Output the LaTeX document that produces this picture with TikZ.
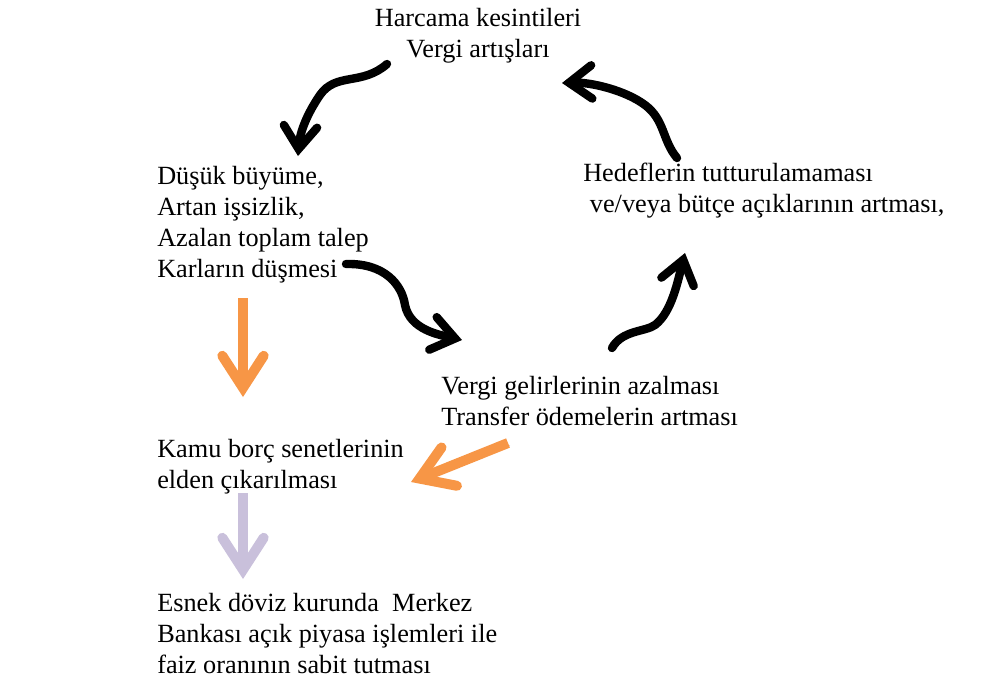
\documentclass[tikz,border=0pt]{standalone}
\usepackage{fontspec}
\setmainfont{Liberation Serif}
\usetikzlibrary{arrows.meta}
\definecolor{arrorange}{HTML}{F79646}
\definecolor{arrlilac}{HTML}{C9C0DB}

\begin{document}
\begin{tikzpicture}[x=0.75pt,y=-0.75pt,
  every node/.style={inner sep=0pt, anchor=base west, align=left, font=\fontsize{19.7}{23.25}\selectfont},
  shade/.style={preaction={draw=black!18, transform canvas={shift={(1.5pt,-1.8pt)}}}},
  curvy/.style={shade, line width=6.3pt, line cap=round, -{Straight Barb[length=17pt,width=25pt,line cap=round]}},
  fat/.style={shade, line width=7.5pt, -{Straight Barb[length=24pt,width=31pt,line cap=round]}}]

\useasboundingbox (0,0) rectangle (982,679);

% texts (placed at the baseline of their last line)
\node (cuts) [anchor=base, align=center] at (478,57) {Harcama kesintileri\\Vergi artışları};
\node (growth) at (157,277) {Düşük büyüme,\\Artan işsizlik,\\Azalan toplam talep\\Karların düşmesi};
\node (targets) at (583,212) {Hedeflerin tutturulamaması\\\hspace*{5pt}ve/veya bütçe açıklarının artması,};
\node (revenue) at (441,425) {Vergi gelirlerinin azalması\\Transfer ödemelerin artması};
\node (bonds) at (157,488) {Kamu borç senetlerinin\\elden çıkarılması};
\node (fx) at (157,673) {Esnek döviz kurunda\ \ Merkez\\Bankası açık piyasa işlemleri ile\\faiz oranının sabit tutması};

% free ends of the arrows
\coordinate (cutsS) at (387,64);    \coordinate (growthT) at (298,156);
\coordinate (growthS) at (346,264); \coordinate (revenueT) at (462,340);
\coordinate (revenueS) at (612,348); \coordinate (targetsT) at (685,253);
\coordinate (targetsS) at (677,158); \coordinate (cutsT) at (562,83);
\coordinate (downS) at (243,298);   \coordinate (downT) at (243,397);
\coordinate (leftS) at (508,443);   \coordinate (leftT) at (411,482);
\coordinate (lilacS) at (243,493);  \coordinate (lilacT) at (243,579);

% the cycle
\draw [curvy] (cutsS) .. controls (362,86) and (336,72) .. (320,95) .. controls (307,114) and (300,132) .. (growthT);
\draw [curvy] (growthS) .. controls (385,263) and (402,285) .. (405,305) .. controls (410,330) and (440,335) .. (revenueT);
\draw [curvy] (revenueS) .. controls (622,330) and (645,332) .. (655,325) .. controls (672,312) and (678,280) .. (targetsT);
\draw [curvy] (targetsS) .. controls (662,140) and (665,120) .. (645,105) .. controls (625,90) and (590,82) .. (cutsT);

% side arrows
\draw [fat, arrorange] (downS) -- (downT);
\draw [fat, arrorange] (leftS) -- (leftT);
\draw [fat, arrlilac] (lilacS) -- (lilacT);

\end{tikzpicture}
\end{document}
